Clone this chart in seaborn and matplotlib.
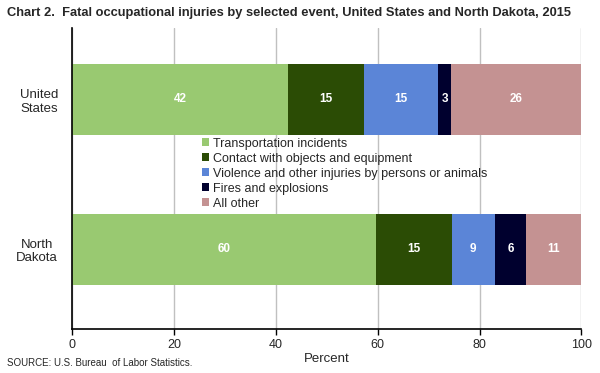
import numpy as np
import pandas as pd
import matplotlib
matplotlib.use("Agg")
import matplotlib.pyplot as plt
import seaborn as sns
from matplotlib.patches import Patch

# data (segment widths in percent, labels as printed)
regions = ["United\nStates", "North\nDakota"]
events = ["Transportation incidents", "Contact with objects and equipment",
          "Violence and other injuries by persons or animals",
          "Fires and explosions", "All other"]
transport = [42.4, 59.7]
contact = [14.9, 14.8]
violence = [14.6, 8.5]
fires = [2.5, 6.2]
other = [25.6, 10.8]
shown_labels = [[42, 15, 15, 3, 26], [60, 15, 9, 6, 11]]
colors = ["#99c971", "#2b4c05", "#5b85d7", "#00002e", "#c49292"]

sns.set_style("white")
plt.rcParams["font.family"] = ["Liberation Sans", "DejaVu Sans"]

df = pd.DataFrame({"region": regions, events[0]: transport, events[1]: contact,
                   events[2]: violence, events[3]: fires, events[4]: other})
cum = df[events].cumsum(axis=1)
cum["region"] = df["region"]

fig = plt.figure(figsize=(6, 3.73), dpi=100)
ax = fig.add_axes([0.12, 0.118, 0.849, 0.807])

# stacked bars: draw cumulative totals from the largest down so each layer overlaps
for ev, col in reversed(list(zip(events, colors))):
    sns.barplot(data=cum, x=ev, y="region", color=col, orient="h", width=0.475,
                saturation=1, ax=ax, linewidth=0, order=regions)

# segment labels
for i in range(len(regions)):
    left = 0
    for j, ev in enumerate(events):
        w = df[ev][i]
        ax.text(left + w / 2, i, str(shown_labels[i][j]), ha="center", va="center",
                color="white", fontsize=8.5, fontweight="bold")
        left += w

ax.set_xlim(0, 100)
ax.set_ylim(1.533, -0.477)
ax.set_xticks([0, 20, 40, 60, 80, 100])
ax.xaxis.grid(True, color="#c0c0c0", linewidth=1)
ax.set_axisbelow(True)
for s in ["top", "right"]:
    ax.spines[s].set_visible(False)
for s in ["left", "bottom"]:
    ax.spines[s].set_color("black")
    ax.spines[s].set_linewidth(1.2)
ax.tick_params(axis="x", length=4, width=1, color="black", labelsize=9, pad=3, bottom=True)
ax.tick_params(axis="y", length=0, labelsize=9.5, pad=10)
for t in ax.get_yticklabels():
    t.set_multialignment("center")
ax.set_ylabel("")
ax.set_xlabel("Percent", fontsize=9.5, labelpad=2)

handles = [Patch(facecolor=c, edgecolor="none") for c in colors]
ax.legend(handles, events, loc="upper left", bbox_to_anchor=(0.255, 0.636),
          frameon=False, fontsize=9, handlelength=0.6, handleheight=0.6,
          handletextpad=0.3, labelspacing=0.24, borderpad=0, borderaxespad=0)

fig.text(0.012, 0.958, "Chart 2.  Fatal occupational injuries by selected event, United States and North Dakota, 2015",
         fontsize=9.3, fontweight="bold")
fig.text(0.012, 0.02, "SOURCE: U.S. Bureau  of Labor Statistics.", fontsize=7)

fig.savefig("out.png", dpi=100)
